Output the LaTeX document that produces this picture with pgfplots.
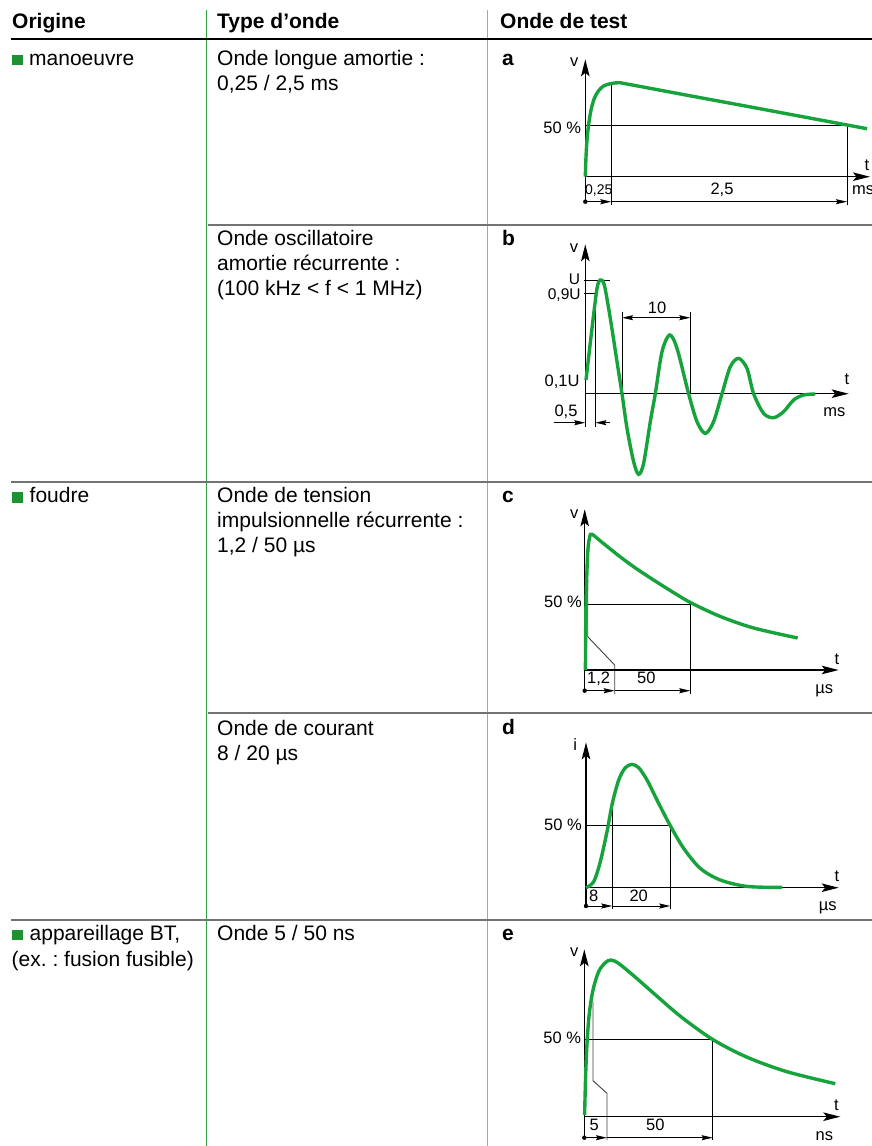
\documentclass[border=0pt]{standalone}
\usepackage{fontspec}
\setmainfont{Liberation Sans}
\usepackage{pgfplots}
\pgfplotsset{compat=1.18}
\usetikzlibrary{arrows.meta}
\frenchspacing

\definecolor{onde}{RGB}{22,163,60}
\definecolor{puce}{RGB}{30,145,50}
\definecolor{filet1}{RGB}{50,160,70}
\definecolor{filet2}{RGB}{125,195,135}
\definecolor{sep}{RGB}{115,115,115}

\newcommand\corps{\fontsize{21}{25}\selectfont}

\tikzset{
  ax/.style={line width=1.4pt, -{Stealth[length=17pt,width=8.5pt,inset=3.5pt]}},
  thin/.style={line width=0.9pt},
  bent/.style={line width=0.9pt, black!75},
  dim/.style={line width=0.9pt, -{Stealth[length=11pt,width=5pt,inset=1.5pt]}},
  dimb/.style={line width=0.9pt, {Stealth[length=11pt,width=5pt,inset=1.5pt]}-{Stealth[length=11pt,width=5pt,inset=1.5pt]}},
  lab/.style={font=\fontsize{16.5}{18}\selectfont, inner sep=0pt},
  txt/.style={font=\corps, inner sep=0pt, anchor=base west},
}
\pgfplotsset{
  wv/.style={x=1pt, y=1pt, hide axis, clip=false, anchor=origin,
    xmin=-40, xmax=290, ymin=-90, ymax=170},
  wave/.style={onde, line width=3.4pt, smooth, no markers},
}

\begin{document}
\begin{tikzpicture}
\path[use as bounding box] (0pt,0pt) rectangle (872pt,-1146pt);

\begin{scope}[x=1pt, y=-1pt]
  % filets du tableau
  \draw[filet1, line width=1.1pt] (206.5,10) -- (206.5,1146);
  \draw[filet2, line width=1.3pt] (487.3,10) -- (487.3,1146);
  \draw[line width=2.2pt] (11,39) -- (872,39);
  \draw[sep, line width=1.4pt] (207.5,225) -- (872,225);
  \draw[sep, line width=1.4pt] (11,482) -- (872,482);
  \draw[sep, line width=1.4pt] (207.5,713) -- (872,713);
  \draw[sep, line width=1.4pt] (11,920) -- (872,920);

  % en-tetes
  \node[txt, font=\corps\bfseries] at (12,28) {Origine};
  \node[txt, font=\corps\bfseries] at (217,28) {Type d’onde};
  \node[txt, font=\corps\bfseries] at (500,28) {Onde de test};

  % colonne origine
  \fill[puce] (12,55) rectangle (23,65);
  \node[txt] at (29,65) {manoeuvre};
  \fill[puce] (12,492) rectangle (23,502.5);
  \node[txt] at (29.5,502.7) {foudre};
  \fill[puce] (12,929.5) rectangle (23,940);
  \node[txt] at (29.5,940.7) {appareillage BT,};
  \node[txt] at (11.5,966.7) {(ex. : fusion fusible)};

  % colonne type d'onde
  \node[txt] at (217,65) {Onde longue amortie :};
  \node[txt] at (217,90) {0,25 / 2,5 ms};
  \node[txt] at (217,245) {Onde oscillatoire};
  \node[txt] at (217,270) {amortie récurrente :};
  \node[txt] at (217,295) {(100 kHz < f < 1 MHz)};
  \node[txt] at (217,502.7) {Onde de tension};
  \node[txt] at (217,527.7) {impulsionnelle récurrente :};
  \node[txt] at (217,552.7) {1,2 / 50 µs};
  \node[txt] at (217,735) {Onde de courant};
  \node[txt] at (217,760) {8 / 20 µs};
  \node[txt] at (217,940.7) {Onde 5 / 50 ns};

  % lettres
  \node[txt, font=\corps\bfseries] at (502,65) {a};
  \node[txt, font=\corps\bfseries] at (502,245) {b};
  \node[txt, font=\corps\bfseries] at (502,502.7) {c};
  \node[txt, font=\corps\bfseries] at (502,734.3) {d};
  \node[txt, font=\corps\bfseries] at (502,940.7) {e};
\end{scope}

% a : onde longue amortie
\begin{axis}[wv, at={(585.3pt,-176.7pt)}]
  \draw[thin] (0,51.7) -- (261.7,51.7);
  \draw[thin] (26,93.4) -- (26,-28.3);
  \draw[thin] (261.7,51.7) -- (261.7,-28.3);
  \draw[ax] (0,-25) -- (0,117.4);
  \draw[ax] (0,0) -- (284.7,0);
  \fill (0,-25) circle[radius=2.2pt];
  \draw[dim] (0,-25) -- (26,-25);
  \draw[dim] (26,-25) -- (261.7,-25);
  \node[lab, anchor=base] at (-11,110.7) {v};
  \node[lab, anchor=base] at (281.7,6.7) {t};
  \node[lab, anchor=base west] at (266.7,-17.3) {ms};
  \node[lab, anchor=base east] at (-4,43.7) {50 \%};
  \node[lab, anchor=base, font=\fontsize{14}{16}\selectfont] at (13.5,-17.3) {0,25};
  \node[lab, anchor=base] at (136.7,-17.3) {2,5};
  \addplot[wave] coordinates {
    (0,0) (0.7,20) (1.7,36.7) (3.3,51.7) (5.7,66.7) (9,78.3) (13.3,86)
    (18.3,90.7) (25,93) (33.3,94) (41.7,92.7) (100,81.8) (160,70.7)
    (220,59.5) (281.7,48)
  };
\end{axis}

% b : onde oscillatoire amortie
\begin{axis}[wv, at={(585.3pt,-393.7pt)}]
  \draw[thin] (-1.6,113) -- (25,113);
  \draw[thin] (-1.6,100.4) -- (10,100.4) -- (10,-33);
  \draw[thin] (36.7,81.4) -- (36.7,0);
  \draw[thin] (105,81.4) -- (105,0);
  \draw[ax] (0,-33) -- (0,149.4);
  \draw[ax] (0,0) -- (263.4,0);
  \draw[dimb] (36.7,76) -- (105,76);
  \draw[dim] (-31.6,-29) -- (0,-29);
  \draw[dim] (25,-29) -- (10,-29);
  \node[lab, anchor=base] at (-11.3,141.4) {v};
  \node[lab, anchor=base] at (261.7,9.4) {t};
  \node[lab, anchor=base] at (249,-23) {ms};
  \node[lab, anchor=base east, font=\fontsize{15.5}{17}\selectfont] at (-5,109) {U};
  \node[lab, anchor=base east, font=\fontsize{15.5}{17}\selectfont] at (-4.5,94.5) {0,9U};
  \node[lab, anchor=base east] at (-5.6,7) {0,1U};
  \node[lab, anchor=base] at (71.7,80.4) {10};
  \node[lab, anchor=base] at (-19.3,-23) {0,5};
  \addplot[wave] coordinates {
    (0.7,13.7) (6.7,65.3) (11.7,105.3) (15,113.7) (19,108.7) (25,75.3)
    (31.7,32) (36.7,0) (41.7,-34.7) (48.3,-68) (53.3,-80.7) (58.3,-69.7)
    (65,-28) (70,0) (76.7,42) (84.3,58.7) (91.7,45.3) (103.3,0)
    (111.7,-28) (120,-39.7) (128.3,-28) (136.7,0) (145,27) (153.3,35.3)
    (161.7,25.3) (168.3,0) (178.3,-19.7) (188.3,-24) (198.3,-18)
    (208.3,-6.3) (218.3,-1.3) (230,-0.3)
  };
\end{axis}

% c : onde de tension 1,2/50
\begin{axis}[wv, at={(584.7pt,-670pt)}]
  \draw[thin] (0,66) -- (105.6,66) -- (105.6,-24);
  \draw[bent] (3,90) -- (3,33.3) -- (30,5) -- (30,-24);
  \draw[ax] (0,-21.7) -- (0,160.7);
  \draw[ax] (0,0) -- (254,0);
  \fill (0,-20.7) circle[radius=2.2pt];
  \draw[dim] (0,-20.7) -- (30,-20.7);
  \draw[dim] (30,-20.7) -- (105.6,-20.7);
  \node[lab, anchor=base] at (-10.4,151.7) {v};
  \node[lab, anchor=base] at (252.3,5.7) {t};
  \node[lab, anchor=base] at (239.6,-23.3) {µs};
  \node[lab, anchor=base east] at (-2.7,62.7) {50 \%};
  \node[lab, anchor=base] at (14,-13.3) {1,2};
  \node[lab, anchor=base] at (61.6,-13.3) {50};
  \addplot[wave] coordinates {
    (0.7,0) (1.3,66.7) (3,116.7) (5,133.3) (7.3,135.7) (15.7,129)
    (25,121.5) (35.7,113) (50,102.5) (65,92.5) (82.3,81.5) (105.7,67.5)
    (135.7,53.5) (169,42) (213,32)
  };
\end{axis}

% d : onde de courant 8/20
\begin{axis}[wv, at={(586pt,-887.7pt)}]
  \draw[thin] (0,62) -- (84.3,62) -- (84.3,-21.3);
  \draw[thin] (26.3,84.3) -- (26.3,-21.3);
  \draw[ax] (0,-18.3) -- (0,145.4);
  \draw[ax] (0,0) -- (252.7,0);
  \fill (0,-18.3) circle[radius=2.2pt];
  \draw[dim] (0,-18.3) -- (26.3,-18.3);
  \draw[dim] (26.3,-18.3) -- (84.3,-18.3);
  \node[lab, anchor=base] at (-10.7,137.7) {i};
  \node[lab, anchor=base] at (251,6) {t};
  \node[lab, anchor=base] at (241.7,-22.3) {µs};
  \node[lab, anchor=base east] at (-4,57.7) {50 \%};
  \node[lab, anchor=base] at (7.7,-14) {8};
  \node[lab, anchor=base] at (52.7,-14) {20};
  \addplot[wave] coordinates {
    (0,0) (7.7,6) (14.3,26) (21,56) (26.3,84.3) (32.7,107.7) (39.3,120)
    (46,123.3) (52.7,120) (61,107.7) (72.7,84.3) (84.3,62) (97.7,39.3)
    (114.3,19.3) (134.3,7.7) (161,1.3) (196,0.3)
  };
\end{axis}

% e : onde 5/50 ns
\begin{axis}[wv, at={(584.3pt,-1116.7pt)}]
  \draw[thin] (0,77.4) -- (128.4,77.4) -- (128.4,-23.3);
  \draw[bent] (8.7,115) -- (8.7,36) -- (22.7,23.4) -- (22.7,-23.3);
  \draw[ax] (0,-21) -- (0,167.4);
  \draw[ax] (0,0) -- (256,0);
  \fill (0,-21) circle[radius=2.2pt];
  \draw[dim] (0,-21) -- (22.7,-21);
  \draw[dim] (22.7,-21) -- (128.4,-21);
  \node[lab, anchor=base] at (-10,160) {v};
  \node[lab, anchor=base] at (252,6.7) {t};
  \node[lab, anchor=base] at (240,-23.3) {ns};
  \node[lab, anchor=base east] at (-3,73.4) {50 \%};
  \node[lab, anchor=base] at (10,-14) {5};
  \node[lab, anchor=base] at (71,-14) {50};
  \addplot[wave] coordinates {
    (0.3,1.7) (1.3,40) (2.7,73.3) (5,103.3) (8.7,126.7) (14.3,145)
    (21,154) (26.7,156.7) (34.3,153.3) (49.3,141) (69.3,123.5)
    (96,100.5) (128.3,77.3) (162.7,59.5) (202.7,45) (251,33)
  };
\end{axis}
\end{tikzpicture}
\end{document}
